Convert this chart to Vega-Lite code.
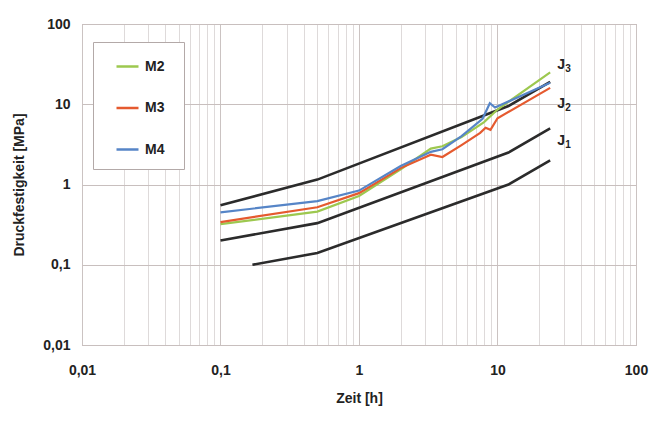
{
  "$schema": "https://vega.github.io/schema/vega-lite/v6.json",
  "width": 554,
  "height": 321,
  "autosize": {"type": "none"},
  "padding": {"left": 82, "top": 24, "right": 24, "bottom": 83},
  "background": "white",
  "config": {
    "view": {"stroke": "#b3a9a8", "strokeWidth": 1},
    "font": "Liberation Sans"
  },
  "datasets": {
    "jcurves": [
      {"series": "J1", "t": 0.17, "v": 0.1},
      {"series": "J1", "t": 0.5, "v": 0.14},
      {"series": "J1", "t": 12, "v": 1},
      {"series": "J1", "t": 24, "v": 2},
      {"series": "J2", "t": 0.1, "v": 0.2},
      {"series": "J2", "t": 0.5, "v": 0.33},
      {"series": "J2", "t": 12, "v": 2.5},
      {"series": "J2", "t": 24, "v": 5},
      {"series": "J3", "t": 0.1, "v": 0.55},
      {"series": "J3", "t": 0.5, "v": 1.15},
      {"series": "J3", "t": 12, "v": 9.5},
      {"series": "J3", "t": 24, "v": 19}
    ],
    "measured": [
      {"series": "M2", "t": 0.1, "v": 0.32},
      {"series": "M2", "t": 0.5, "v": 0.46},
      {"series": "M2", "t": 1, "v": 0.72},
      {"series": "M2", "t": 2, "v": 1.55},
      {"series": "M2", "t": 3.3, "v": 2.8},
      {"series": "M2", "t": 4, "v": 3.0},
      {"series": "M2", "t": 5.5, "v": 3.9},
      {"series": "M2", "t": 8, "v": 6.0},
      {"series": "M2", "t": 10, "v": 8.6},
      {"series": "M2", "t": 24, "v": 25},
      {"series": "M3", "t": 0.1, "v": 0.34},
      {"series": "M3", "t": 0.5, "v": 0.52},
      {"series": "M3", "t": 1, "v": 0.78},
      {"series": "M3", "t": 2, "v": 1.6},
      {"series": "M3", "t": 3.3, "v": 2.35},
      {"series": "M3", "t": 4, "v": 2.2},
      {"series": "M3", "t": 5.5, "v": 3.1},
      {"series": "M3", "t": 7.5, "v": 4.4},
      {"series": "M3", "t": 8.2, "v": 5.1},
      {"series": "M3", "t": 8.9, "v": 4.8},
      {"series": "M3", "t": 10, "v": 6.7},
      {"series": "M3", "t": 24, "v": 16},
      {"series": "M4", "t": 0.1, "v": 0.45},
      {"series": "M4", "t": 0.5, "v": 0.62},
      {"series": "M4", "t": 1, "v": 0.84},
      {"series": "M4", "t": 2, "v": 1.7},
      {"series": "M4", "t": 3.3, "v": 2.55},
      {"series": "M4", "t": 4, "v": 2.75},
      {"series": "M4", "t": 5.5, "v": 4.0},
      {"series": "M4", "t": 7.8, "v": 6.6},
      {"series": "M4", "t": 8.8, "v": 10.3},
      {"series": "M4", "t": 9.6, "v": 9.1},
      {"series": "M4", "t": 24, "v": 18.5}
    ],
    "labels": [
      {"main": "J", "sub": "3", "t": 27, "v": 31},
      {"main": "J", "sub": "2", "t": 27, "v": 10},
      {"main": "J", "sub": "1", "t": 27, "v": 3.5}
    ]
  },
  "encoding": {
    "x": {
      "field": "t",
      "type": "quantitative",
      "scale": {"type": "log", "domain": [0.01, 100], "nice": false},
      "axis": {
        "title": "Zeit [h]",
        "values": [0.01, 0.02, 0.03, 0.04, 0.05, 0.06, 0.07, 0.08, 0.09, 0.1, 0.2, 0.3, 0.4, 0.5, 0.6, 0.7, 0.8, 0.9, 1, 2, 3, 4, 5, 6, 7, 8, 9, 10, 20, 30, 40, 50, 60, 70, 80, 90, 100],
        "labelExpr": "indexof([0.01, 0.1, 1, 10, 100], datum.value) >= 0 ? replace(format(datum.value, '~g'), '.', ',') : ''",
        "grid": true,
        "gridColor": {"condition": {"test": "indexof([0.01, 0.1, 1, 10, 100], datum.value) >= 0", "value": "#cbc3c2"}, "value": "#dedada"},
        "gridWidth": 1,
        "domain": false,
        "ticks": false,
        "tickSize": 0,
        "labelPadding": 18,
        "labelOverlap": false,
        "labelFlush": false,
        "labelBound": false,
        "labelFont": "Liberation Sans",
        "labelFontWeight": "bold",
        "labelFontSize": 14,
        "labelColor": "#222222",
        "titleFont": "Liberation Sans",
        "titleFontWeight": "bold",
        "titleFontSize": 14,
        "titleColor": "#222222",
        "titlePadding": 14
      }
    },
    "y": {
      "field": "v",
      "type": "quantitative",
      "scale": {"type": "log", "domain": [0.01, 100], "nice": false},
      "axis": {
        "title": "Druckfestigkeit [MPa]",
        "values": [0.01, 0.1, 1, 10, 100],
        "labelExpr": "replace(format(datum.value, '~g'), '.', ',')",
        "grid": true,
        "gridColor": "#c8bfbe",
        "domain": false,
        "ticks": false,
        "tickSize": 0,
        "labelPadding": 12,
        "labelOverlap": false,
        "labelFlush": false,
        "labelFont": "Liberation Sans",
        "labelFontWeight": "bold",
        "labelFontSize": 14,
        "labelColor": "#222222",
        "titleFont": "Liberation Sans",
        "titleFontWeight": "bold",
        "titleFontSize": 14,
        "titleColor": "#222222",
        "titlePadding": 16
      }
    }
  },
  "layer": [
    {
      "data": {"name": "jcurves"},
      "mark": {"type": "line", "color": "#2b2b2b", "strokeWidth": 2.6},
      "encoding": {"detail": {"field": "series", "type": "nominal"}}
    },
    {
      "data": {"name": "measured"},
      "mark": {"type": "line", "strokeWidth": 2.2},
      "encoding": {
        "color": {
          "field": "series",
          "type": "nominal",
          "scale": {"domain": ["M2", "M3", "M4"], "range": ["#9dc84f", "#e55a2f", "#5685c7"]},
          "legend": {
            "title": "\u00a0",
            "titleOrient": "right",
            "titlePadding": 8,
            "titleFontSize": 11,
            "orient": "none",
            "legendX": 11,
            "legendY": 18,
            "symbolType": "stroke",
            "symbolSize": 484,
            "symbolStrokeWidth": 2.5,
            "symbolOffset": 10,
            "labelOffset": 5,
            "rowPadding": 21.5,
            "padding": 12,
            "strokeColor": "#b3a9a8",
            "fillColor": "white",
            "labelFont": "Liberation Sans",
            "labelFontWeight": "bold",
            "labelFontSize": 14,
            "labelColor": "#222222"
          }
        }
      }
    },
    {
      "data": {"name": "labels"},
      "mark": {"type": "text", "align": "left", "baseline": "middle", "font": "Liberation Sans", "fontWeight": "bold", "fontSize": 14, "color": "#222222"},
      "encoding": {"text": {"field": "main", "type": "nominal"}}
    },
    {
      "data": {"name": "labels"},
      "mark": {"type": "text", "align": "left", "baseline": "middle", "dx": 8, "dy": 4, "font": "Liberation Sans", "fontWeight": "bold", "fontSize": 10, "color": "#222222"},
      "encoding": {"text": {"field": "sub", "type": "nominal"}}
    }
  ]
}
